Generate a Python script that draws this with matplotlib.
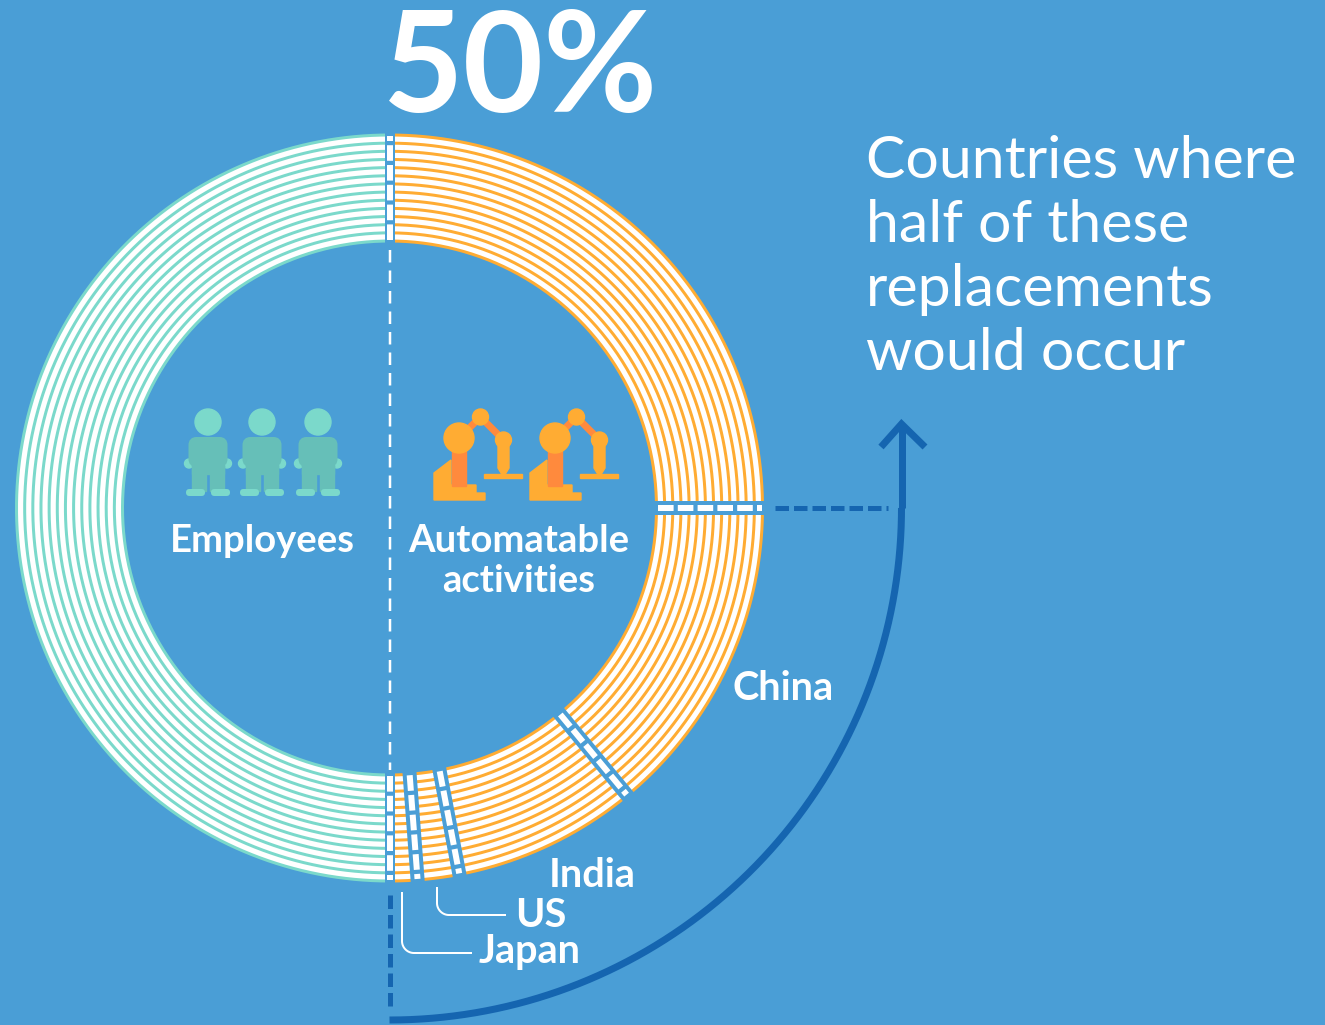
import numpy as np
import matplotlib
matplotlib.use("Agg")
import matplotlib.pyplot as plt
import matplotlib.patches as mpatches

# shares of the whole ring, in percent
groups = ["Employees", "Automatable\nactivities"]
group_shares = [50, 50]
countries = ["China", "India", "US", "Japan"]
country_shares = [14.0, 8.0, 1.8, 1.2]
headline = "50%"
note_lines = ["Countries where", "half of these", "replacements", "would occur"]

BG = "#4a9ed6"
TEAL = "#7bd9cb"
TEAL_DARK = "#66bfb8"
ORANGE = "#ffac33"
ORANGE_DARK = "#ff8a3d"
NAVY = "#1565b0"
WHITE = "#ffffff"

CX, CY = 389.5, 508
R_OUT, R_IN = 373, 267
R_ARROW = 512
N_STRIPES = 14
FONT = "Lato"

fig = plt.figure(figsize=(13.25, 10.25), dpi=100, facecolor=BG)
ax = fig.add_axes([0, 0, 1, 1])
ax.set_xlim(0, 1325)
ax.set_ylim(1025, 0)
ax.axis("off")


def px(w):
    return w * 0.72


def polar(r, deg):
    t = np.radians(deg)
    return CX + r * np.cos(t), CY + r * np.sin(t)


def draw_band(start, end, colour):
    # white band with thin coloured arcs, angles run clockwise on screen
    ax.add_patch(mpatches.Wedge((CX, CY), R_OUT, start, end, width=R_OUT - R_IN,
                                facecolor=WHITE, edgecolor="none", zorder=2))
    t = np.linspace(start, end, 400)
    for r in np.linspace(R_IN, R_OUT, N_STRIPES):
        x, y = polar(r, t)
        ax.plot(x, y, color=colour, lw=px(3), solid_capstyle="butt", zorder=3)


def draw_gap(deg, gap_w, dash_w):
    x, y = polar(np.array([R_IN - 3, R_OUT + 3]), deg)
    ax.plot(x, y, color=BG, lw=px(gap_w), solid_capstyle="butt", zorder=4)
    x, y = polar(np.array([R_IN + 1, R_OUT - 1]), deg)
    ax.plot(x, y, color=WHITE, lw=px(dash_w), solid_capstyle="butt",
            linestyle=(0, (2.6, 0.7)), zorder=5)


def draw_person(cx):
    ax.add_patch(mpatches.Circle((cx, 422), 13, color=TEAL, zorder=3))
    for dx in (-19, 19):
        ax.add_patch(mpatches.Circle((cx + dx, 463.5), 4.5, color=TEAL, zorder=3))
    body = mpatches.FancyBboxPatch((cx - 15.5, 441), 31, 22,
                                   boxstyle="round,pad=0,rounding_size=4",
                                   facecolor=TEAL_DARK, edgecolor=TEAL_DARK, lw=px(8), zorder=4)
    ax.add_patch(body)
    for x0 in (cx - 16, cx + 2):
        ax.add_patch(mpatches.Rectangle((x0, 465), 14, 26, color=TEAL_DARK, zorder=4))
    ax.add_patch(mpatches.Rectangle((cx - 16, 465), 32, 9, color=TEAL_DARK, zorder=4))
    for x0 in (cx - 22, cx + 3):
        ax.add_patch(mpatches.FancyBboxPatch((x0, 489), 19, 7,
                                             boxstyle="round,pad=0,rounding_size=3.5",
                                             color=TEAL, lw=0, zorder=5))


def draw_robot(x0):
    # x0 is the left edge of the base
    y0 = 473
    base = np.array([(0, 27), (0, 0), (17, -13), (17, 12), (42, 12), (42, 20),
                     (51, 20), (51, 27)], float)
    ax.add_patch(mpatches.Polygon(base + (x0, y0), color=ORANGE, zorder=3))
    ax.add_patch(mpatches.Rectangle((x0 + 18, y0 - 47), 14, 60, color=ORANGE_DARK, zorder=4))
    big, mid, wrist = (x0 + 25, y0 - 35), (x0 + 46.5, y0 - 56), (x0 + 69.5, y0 - 33)
    ax.plot([big[0], mid[0], wrist[0]], [big[1], mid[1], wrist[1]], color=ORANGE_DARK,
            lw=px(7), solid_joinstyle="miter", zorder=4)
    ax.add_patch(mpatches.Circle(big, 15, color=ORANGE, zorder=5))
    ax.add_patch(mpatches.Circle(mid, 8, color=ORANGE, zorder=5))
    ax.add_patch(mpatches.Circle(wrist, 8, color=ORANGE, zorder=5))
    tool = np.array([(64, -30), (75, -30), (75, -5), (69.5, 4), (64, -5)], float)
    ax.add_patch(mpatches.Polygon(tool + (x0, y0), color=ORANGE, zorder=4))
    ax.add_patch(mpatches.Rectangle((x0 + 50, y0 + 0.5), 38, 4, color=ORANGE, zorder=4))


def bold_text(x, y, s, size, **kw):
    ax.text(x, y, s, color=WHITE, fontsize=size, fontfamily=FONT, fontweight="bold",
            zorder=8, **kw)


# ring, clockwise from the top
per_pct = 3.6
draw_band(90, 90 + group_shares[0] * per_pct, TEAL)
draw_band(-90, -90 + group_shares[1] * per_pct, ORANGE)

# country boundaries, clockwise from three o'clock
edge = 0.0
draw_gap(edge, 14, 6)
for share in country_shares:
    edge += share * per_pct
    if edge < 89:
        draw_gap(edge, 14, 6)
draw_gap(-90, 10, 6)
draw_gap(90, 10, 6)

# white centre line
ax.plot([CX, CX], [250, 770], color=WHITE, lw=px(2.5), linestyle=(0, (5, 3.2)),
        dash_capstyle="butt", zorder=3)

# navy arrow and dashed guides
t = np.linspace(90, 0, 300)
x, y = polar(R_ARROW, t)
ax.plot(x, y, color=NAVY, lw=px(7), solid_capstyle="butt", zorder=2)
ax.plot([CX + R_ARROW, CX + R_ARROW], [CY, 424], color=NAVY, lw=px(7),
        solid_capstyle="butt", zorder=2)
ax.plot([881, CX + R_ARROW, 925], [447, 424, 447], color=NAVY, lw=px(7),
        solid_joinstyle="miter", solid_capstyle="butt", zorder=2)
ax.plot([775, 888], [508, 508], color=NAVY, lw=px(5), linestyle=(0, (2.7, 1)),
        dash_capstyle="butt", zorder=2)
ax.plot([CX, CX], [895, 1010], color=NAVY, lw=px(5), linestyle=(0, (2.7, 1.2)),
        dash_capstyle="butt", zorder=2)

# icons
for cx in (208, 262, 318):
    draw_person(cx)
for x0 in (434, 530):
    draw_robot(x0)

# texts
bold_text(521, 112, headline, 100, ha="center", va="baseline")
bold_text(262, 552, groups[0], 27.5, ha="center", va="baseline")
line_a, line_b = groups[1].split("\n")
bold_text(519, 552, line_a, 27.5, ha="center", va="baseline")
bold_text(519, 592, line_b, 27.5, ha="center", va="baseline")
bold_text(733, 700, countries[0], 28.5, ha="left", va="baseline")
bold_text(549, 887, countries[1], 28.5, ha="left", va="baseline")
bold_text(515, 927, countries[2], 28.5, ha="left", va="baseline")
bold_text(479, 963, countries[3], 28.5, ha="left", va="baseline")

for i, line in enumerate(note_lines):
    ax.text(866, 178 + i * 64, line, color=WHITE, fontsize=42.5, fontfamily=FONT,
            fontweight="normal", va="baseline", ha="left", zorder=8)


# leader lines for the two small slices
def leader(x0, y0, y1, x1):
    r = 12
    t = np.linspace(180, 90, 30)
    xs = np.r_[x0, x0 + r + r * np.cos(np.radians(t)), x1]
    ys = np.r_[y0, y1 - r + r * np.sin(np.radians(t)), y1]
    ax.plot(xs, ys, color=WHITE, lw=px(2), zorder=6)


leader(402, 893, 953, 471)
leader(437, 888, 915, 505)

fig.savefig("out.png", dpi=100, facecolor=BG)
